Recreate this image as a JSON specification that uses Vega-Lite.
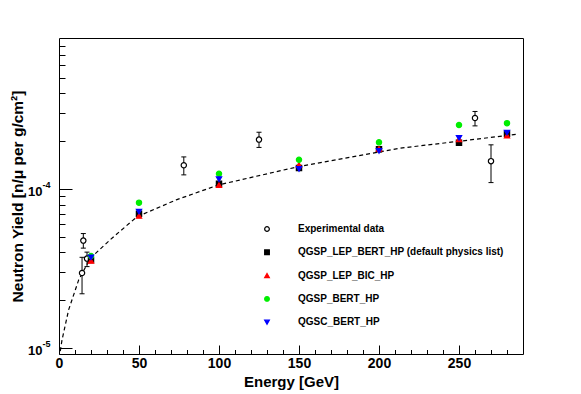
{
  "$schema": "https://vega.github.io/schema/vega-lite/v6.json",
  "width": 464,
  "height": 316,
  "autosize": "none",
  "padding": {"left": 59, "top": 38, "right": 58, "bottom": 40},
  "background": "white",
  "config": {
    "font": "Liberation Sans",
    "view": {"stroke": "black", "strokeWidth": 1},
    "axis": {
      "domain": false,
      "grid": false,
      "labelFont": "Liberation Sans",
      "labelFontWeight": "bold",
      "labelFontSize": 14,
      "labelColor": "black",
      "titleFont": "Liberation Sans",
      "titleFontWeight": "bold",
      "titleFontSize": 15,
      "titleColor": "black",
      "tickColor": "black",
      "tickWidth": 1
    }
  },
  "datasets": {
    "fit": [
      {"E": 0.8, "Y": 9.6e-6},
      {"E": 1.9, "Y": 1.13e-5},
      {"E": 6.0, "Y": 1.74e-5},
      {"E": 12.3, "Y": 2.69e-5},
      {"E": 19.6, "Y": 3.68e-5},
      {"E": 33.1, "Y": 4.92e-5},
      {"E": 48.7, "Y": 6.7e-5},
      {"E": 73.7, "Y": 8.6e-5},
      {"E": 99.8, "Y": 1.064e-4},
      {"E": 149.8, "Y": 1.387e-4},
      {"E": 213, "Y": 1.81e-4},
      {"E": 250, "Y": 2.0e-4},
      {"E": 287, "Y": 2.22e-4}
    ],
    "err": [
      {"E": 14.4, "Y": 2.2e-5, "Y2": 3.73e-5},
      {"E": 15.2, "Y": 4.26e-5, "Y2": 5.26e-5},
      {"E": 17.5, "Y": 3.26e-5, "Y2": 4.02e-5},
      {"E": 78, "Y": 1.23e-4, "Y2": 1.595e-4},
      {"E": 125, "Y": 1.83e-4, "Y2": 2.28e-4},
      {"E": 260, "Y": 2.5e-4, "Y2": 3.08e-4},
      {"E": 270, "Y": 1.1e-4, "Y2": 1.9e-4}
    ],
    "caps": [
      {"E": 14.4, "Y": 2.2e-5}, {"E": 14.4, "Y": 3.73e-5},
      {"E": 15.2, "Y": 4.26e-5}, {"E": 15.2, "Y": 5.26e-5},
      {"E": 17.5, "Y": 3.26e-5}, {"E": 17.5, "Y": 4.02e-5},
      {"E": 78, "Y": 1.23e-4}, {"E": 78, "Y": 1.595e-4},
      {"E": 125, "Y": 1.83e-4}, {"E": 125, "Y": 2.28e-4},
      {"E": 260, "Y": 2.5e-4}, {"E": 260, "Y": 3.08e-4},
      {"E": 270, "Y": 1.1e-4}, {"E": 270, "Y": 1.9e-4}
    ],
    "pts": [
      {"series": "Experimental data", "E": 14.4, "Y": 2.97e-5},
      {"series": "Experimental data", "E": 15.2, "Y": 4.75e-5},
      {"series": "Experimental data", "E": 17.5, "Y": 3.66e-5},
      {"series": "Experimental data", "E": 78, "Y": 1.415e-4},
      {"series": "Experimental data", "E": 125, "Y": 2.05e-4},
      {"series": "Experimental data", "E": 260, "Y": 2.8e-4},
      {"series": "Experimental data", "E": 270, "Y": 1.5e-4},
      {"series": "QGSP_LEP_BERT_HP (default physics list)", "E": 20, "Y": 3.59e-5},
      {"series": "QGSP_LEP_BERT_HP (default physics list)", "E": 50, "Y": 7.0e-5},
      {"series": "QGSP_LEP_BERT_HP (default physics list)", "E": 100, "Y": 1.08e-4},
      {"series": "QGSP_LEP_BERT_HP (default physics list)", "E": 150, "Y": 1.36e-4},
      {"series": "QGSP_LEP_BERT_HP (default physics list)", "E": 200, "Y": 1.78e-4},
      {"series": "QGSP_LEP_BERT_HP (default physics list)", "E": 250, "Y": 1.96e-4},
      {"series": "QGSP_LEP_BERT_HP (default physics list)", "E": 280, "Y": 2.23e-4},
      {"series": "QGSP_LEP_BIC_HP", "E": 20, "Y": 3.54e-5},
      {"series": "QGSP_LEP_BIC_HP", "E": 50, "Y": 6.79e-5},
      {"series": "QGSP_LEP_BIC_HP", "E": 100, "Y": 1.06e-4},
      {"series": "QGSP_LEP_BIC_HP", "E": 150, "Y": 1.42e-4},
      {"series": "QGSP_LEP_BIC_HP", "E": 200, "Y": 1.79e-4},
      {"series": "QGSP_LEP_BIC_HP", "E": 250, "Y": 2.06e-4},
      {"series": "QGSP_LEP_BIC_HP", "E": 280, "Y": 2.17e-4},
      {"series": "QGSP_BERT_HP", "E": 20, "Y": 3.8e-5},
      {"series": "QGSP_BERT_HP", "E": 50, "Y": 8.23e-5},
      {"series": "QGSP_BERT_HP", "E": 100, "Y": 1.25e-4},
      {"series": "QGSP_BERT_HP", "E": 150, "Y": 1.53e-4},
      {"series": "QGSP_BERT_HP", "E": 200, "Y": 1.97e-4},
      {"series": "QGSP_BERT_HP", "E": 250, "Y": 2.53e-4},
      {"series": "QGSP_BERT_HP", "E": 280, "Y": 2.6e-4},
      {"series": "QGSC_BERT_HP", "E": 20, "Y": 3.73e-5},
      {"series": "QGSC_BERT_HP", "E": 50, "Y": 7.23e-5},
      {"series": "QGSC_BERT_HP", "E": 100, "Y": 1.156e-4},
      {"series": "QGSC_BERT_HP", "E": 150, "Y": 1.34e-4},
      {"series": "QGSC_BERT_HP", "E": 200, "Y": 1.74e-4},
      {"series": "QGSC_BERT_HP", "E": 250, "Y": 2.1e-4},
      {"series": "QGSC_BERT_HP", "E": 280, "Y": 2.27e-4}
    ]
  },
  "resolve": {"axis": {"y": "independent"}},
  "layer": [
    {
      "encoding": {
        "x": {"field": "E", "type": "quantitative", "scale": {"domain": [0, 290], "nice": false, "zero": false},
          "axis": {
            "title": "Energy [GeV]",
            "values": [0,10,20,30,40,50,60,70,80,90,100,110,120,130,140,150,160,170,180,190,200,210,220,230,240,250,260,270,280],
            "labelExpr": "datum.value % 50 == 0 ? datum.label : ''",
            "tickSize": {"condition": {"test": "datum.value % 50 == 0", "value": -9}, "value": -4.5},
            "labelPadding": 11.5,
            "titlePadding": -1,
            "labelFlush": false,
            "labelOverlap": false
          }},
        "y": {"field": "Y", "type": "quantitative", "scale": {"type": "log", "domain": [9.2e-6, 8.92e-4], "nice": false},
          "axis": {
            "orient": "left",
            "title": "Neutron Yield [n/μ per g/cm²]",
            "titleFontSize": 15.5,
            "values": [1e-5,2e-5,3e-5,4e-5,5e-5,6e-5,7e-5,8e-5,9e-5,1e-4,2e-4,3e-4,4e-4,5e-4,6e-4,7e-4,8e-4],
            "labelExpr": "datum.value < 1.5e-5 || (datum.value > 0.95e-4 && datum.value < 1.05e-4) ? '10' : ''",
            "labelFontSize": 13,
            "labelOffset": 2,
            "tickSize": {"condition": {"test": "datum.value < 1.5e-5 || (datum.value > 0.95e-4 && datum.value < 1.05e-4)", "value": -13}, "value": -6},
            "labelPadding": 30,
            "titlePadding": 2,
            "labelOverlap": false,
            "labelFlush": false
          }}
      },
      "layer": [
        {
          "data": {"name": "fit"},
          "mark": {"type": "line", "color": "black", "strokeWidth": 1.2, "strokeDash": [4, 3], "clip": true}
        },
        {
          "data": {"name": "err"},
          "mark": {"type": "rule", "color": "black", "strokeWidth": 1},
          "encoding": {"y2": {"field": "Y2"}}
        },
        {
          "data": {"name": "caps"},
          "mark": {"type": "tick", "orient": "horizontal", "color": "black", "size": 5, "thickness": 1, "opacity": 1}
        },
        {
          "data": {"name": "pts"},
          "mark": {"type": "point", "filled": true, "opacity": 1, "strokeWidth": 1.2, "size": 28},
          "encoding": {
            "shape": {"field": "series", "type": "nominal",
              "scale": {"domain": ["Experimental data", "QGSP_LEP_BERT_HP (default physics list)", "QGSP_LEP_BIC_HP", "QGSP_BERT_HP", "QGSC_BERT_HP"],
                        "range": ["circle", "square", "triangle-up", "circle", "triangle-down"]},
              "legend": {
                "title": null,
                "orient": "none",
                "legendX": 203,
                "legendY": 186,
                "labelFont": "Liberation Sans",
                "labelFontWeight": "bold",
                "labelFontSize": 10,
                "labelColor": "black",
                "labelOffset": 26,
                "labelLimit": 400,
                "rowPadding": 13.3,
                "symbolSize": 22,
                "symbolStrokeWidth": 1.2
              }},
            "fill": {"field": "series", "type": "nominal",
              "scale": {"domain": ["Experimental data", "QGSP_LEP_BERT_HP (default physics list)", "QGSP_LEP_BIC_HP", "QGSP_BERT_HP", "QGSC_BERT_HP"],
                        "range": ["white", "black", "#ff0000", "#00ee00", "#0000ff"]}},
            "stroke": {"field": "series", "type": "nominal",
              "scale": {"domain": ["Experimental data", "QGSP_LEP_BERT_HP (default physics list)", "QGSP_LEP_BIC_HP", "QGSP_BERT_HP", "QGSC_BERT_HP"],
                        "range": ["black", "black", "#ff0000", "#00ee00", "#0000ff"]}}
          }
        }
      ]
    },
    {
      "data": {"name": "fit"},
      "mark": {"type": "point", "opacity": 0},
      "encoding": {
        "x": {"field": "E", "type": "quantitative", "scale": {"domain": [0, 290], "nice": false, "zero": false},
          "axis": {
            "title": "Energy [GeV]",
            "values": [0,10,20,30,40,50,60,70,80,90,100,110,120,130,140,150,160,170,180,190,200,210,220,230,240,250,260,270,280],
            "labelExpr": "datum.value % 50 == 0 ? datum.label : ''",
            "tickSize": {"condition": {"test": "datum.value % 50 == 0", "value": -9}, "value": -4.5},
            "labelPadding": 11.5,
            "titlePadding": -1,
            "labelFlush": false,
            "labelOverlap": false
          }},
        "y": {"field": "Y", "type": "quantitative", "scale": {"type": "log", "domain": [9.2e-6, 8.92e-4], "nice": false},
          "axis": {
            "orient": "left",
            "title": null,
            "values": [1e-5, 1e-4],
            "labelExpr": "datum.value < 1.5e-5 ? '-5' : '-4'",
            "labelFontSize": 9,
            "labelAlign": "left",
            "labelBaseline": "middle",
            "labelOffset": -5,
            "ticks": false,
            "labelPadding": 17,
            "offset": 0,
            "labelOverlap": false,
            "labelFlush": false
          }}
      }
    }
  ]
}
